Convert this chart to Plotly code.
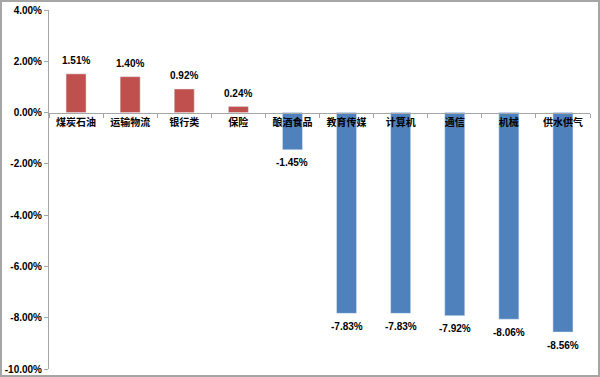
import plotly.graph_objects as go

categories = ["煤炭石油", "运输物流", "银行类", "保险", "酿酒食品", "教育传媒", "计算机", "通信", "机械", "供水供气"]
values = [1.51, 1.40, 0.92, 0.24, -1.45, -7.83, -7.83, -7.92, -8.06, -8.56]
y_ticks = [4, 2, 0, -2, -4, -6, -8, -10]

RED = "#C0504D"
BLUE = "#4F81BD"
colors = [RED if v >= 0 else BLUE for v in values]
labels = [f"{v:.2f}%" for v in values]

ymin, ymax = -10, 4
W, H = 600, 377
ml, mr, mt, mb = 49, 10, 10, 8

fig = go.Figure(go.Bar(
    x=categories, y=values, marker_color=colors, width=0.37,
))

for c, v, t in zip(categories, values, labels):
    fig.add_annotation(
        x=c, y=v, text=t, showarrow=False,
        yshift=13 if v >= 0 else -13,
        font=dict(family="Liberation Sans, Arial", size=10, color="#000", weight="bold"),
    )

zero_pos = (0 - ymin) / (ymax - ymin)
pw = W - ml - mr
ph = H - mt - mb

fig.update_layout(
    width=W, height=H,
    margin=dict(l=ml, r=mr, t=mt, b=mb),
    paper_bgcolor="white", plot_bgcolor="white",
    showlegend=False,
    font=dict(family="Noto Sans CJK SC", color="#000"),
    xaxis=dict(
        type="category", anchor="free", position=zero_pos, automargin=False,
        showline=True, linecolor="#A6A6A6", linewidth=1,
        ticks="outside", tickson="boundaries", ticklen=4, tickcolor="#A6A6A6",
        tickfont=dict(family="Noto Sans CJK SC", size=10, color="#000", weight="bold"),
        showgrid=False, zeroline=False,
    ),
    yaxis=dict(
        range=[ymin, ymax], tickvals=y_ticks, automargin=False,
        ticktext=[f"{t:.2f}%" for t in y_ticks],
        showline=True, linecolor="#A6A6A6", linewidth=1,
        ticks="outside", ticklen=4, tickcolor="#A6A6A6",
        tickfont=dict(family="Liberation Sans, Arial", size=10, color="#000", weight="bold"),
        showgrid=False, zeroline=False,
    ),
    shapes=[dict(
        type="rect", xref="paper", yref="paper",
        x0=(-ml + 1) / pw, x1=(W - ml - 1) / pw,
        y0=(-mb + 1) / ph, y1=(H - mb - 1) / ph,
        line=dict(color="#A6A6A6", width=2), fillcolor="rgba(0,0,0,0)", layer="above",
    )],
)

fig.write_html(
    "out.html",
    config={"displayModeBar": False},
    post_script="document.body.style.margin='0';document.body.style.overflow='hidden';",
)
